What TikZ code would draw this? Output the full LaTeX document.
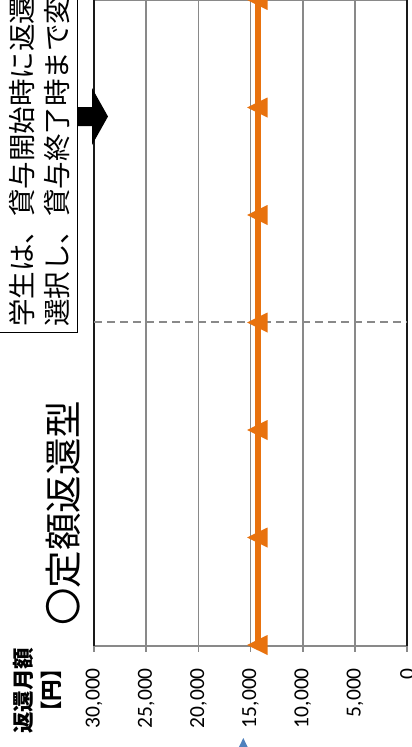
\documentclass[tikz,border=0pt]{standalone}
\usepackage{fontspec}
\setmainfont{Carlito}
\newfontfamily\jpfont{Noto Sans CJK JP}
\usetikzlibrary{calc}

\definecolor{lineorange}{RGB}{232,114,14}
\definecolor{gridgray}{RGB}{137,137,137}
\definecolor{markblue}{RGB}{79,129,189}

\tikzset{
  gridline/.style={draw=gridgray, line width=1.5pt},
  plotborder/.style={draw=black!90, line width=1.8pt},
  ticklabel/.style={rotate=90, anchor=east, inner sep=0pt, font=\fontsize{21.5}{24}\selectfont},
  jptext/.style={rotate=90, inner sep=0pt},
}

\begin{document}
\begin{tikzpicture}[x=1pt,y=-1pt]
\useasboundingbox (0,0) rectangle (412,747);
\clip (0,0) rectangle (412,747);

% grid and axis
\foreach \i in {1,...,5}
  \draw[gridline] ({94+52.2*\i},0) -- ({94+52.2*\i},652);
\draw[gridline] (94,645.7) -- (94,652);
\draw[gridline] (407.2,645.7) -- (407.2,652);
\draw[gridline] (94,0.5) -- (407.2,0.5);
\draw[gridline, line width=2pt] (94,645.7) -- (407.2,645.7);
\draw[plotborder] (94,0) -- (94,645.7);
\draw[plotborder] (407.2,0) -- (407.2,645.7);

\draw[gridline, line width=2pt, dash pattern=on 8pt off 5pt] (94,321.5) -- (407.2,321.5);

% series
\draw[lineorange, line width=6pt] (257.5,-5) -- (257.5,645);
\foreach \k in {0,...,6}
  \fill[lineorange] (247,{107.5*\k}) -- (267.5,{107.5*\k-10}) -- (267.5,{107.5*\k+10}) -- cycle;

% tick labels
\foreach \i/\v in {0/{30,000},1/{25,000},2/{20,000},3/{15,000},4/{10,000},5/{5,000},6/0}
  \node[ticklabel] (tick\i) at ({94+52.2*\i},668) {\v};

\node[jptext, align=center, font=\jpfont\bfseries\fontsize{21.5}{28}\selectfont] (ytitle) at (37,690.5) {返還月額\\【円】};

\fill[markblue] (238,749) -- (243.3,738) -- (248.6,749) -- cycle;

% title
\node[jptext, anchor=west, font=\jpfont\fontsize{37.5}{40}\selectfont] (title) at (63.5,626) {〇定額返還型};

% note box and arrow
\draw[fill=white, line width=1.5pt] (-5,-5) rectangle (77.5,332.5);
\node[jptext, anchor=west, font=\jpfont\fontsize{27.5}{30}\selectfont] (noteA) at (22.5,327) {学生は、貸与開始時に返還};
\node[jptext, anchor=west, font=\jpfont\fontsize{27.5}{30}\selectfont] (noteB) at (57.5,327) {選択し、貸与終了時まで変};
\coordinate (arrowfoot) at (77.5,116.5);
\fill ($(arrowfoot)+(0,-9.5)$) -- (92,107) -- (92,88) -- (108,116.5) -- (92,145) -- (92,126) -- ($(arrowfoot)+(0,9.5)$) -- cycle;

\end{tikzpicture}
\end{document}
